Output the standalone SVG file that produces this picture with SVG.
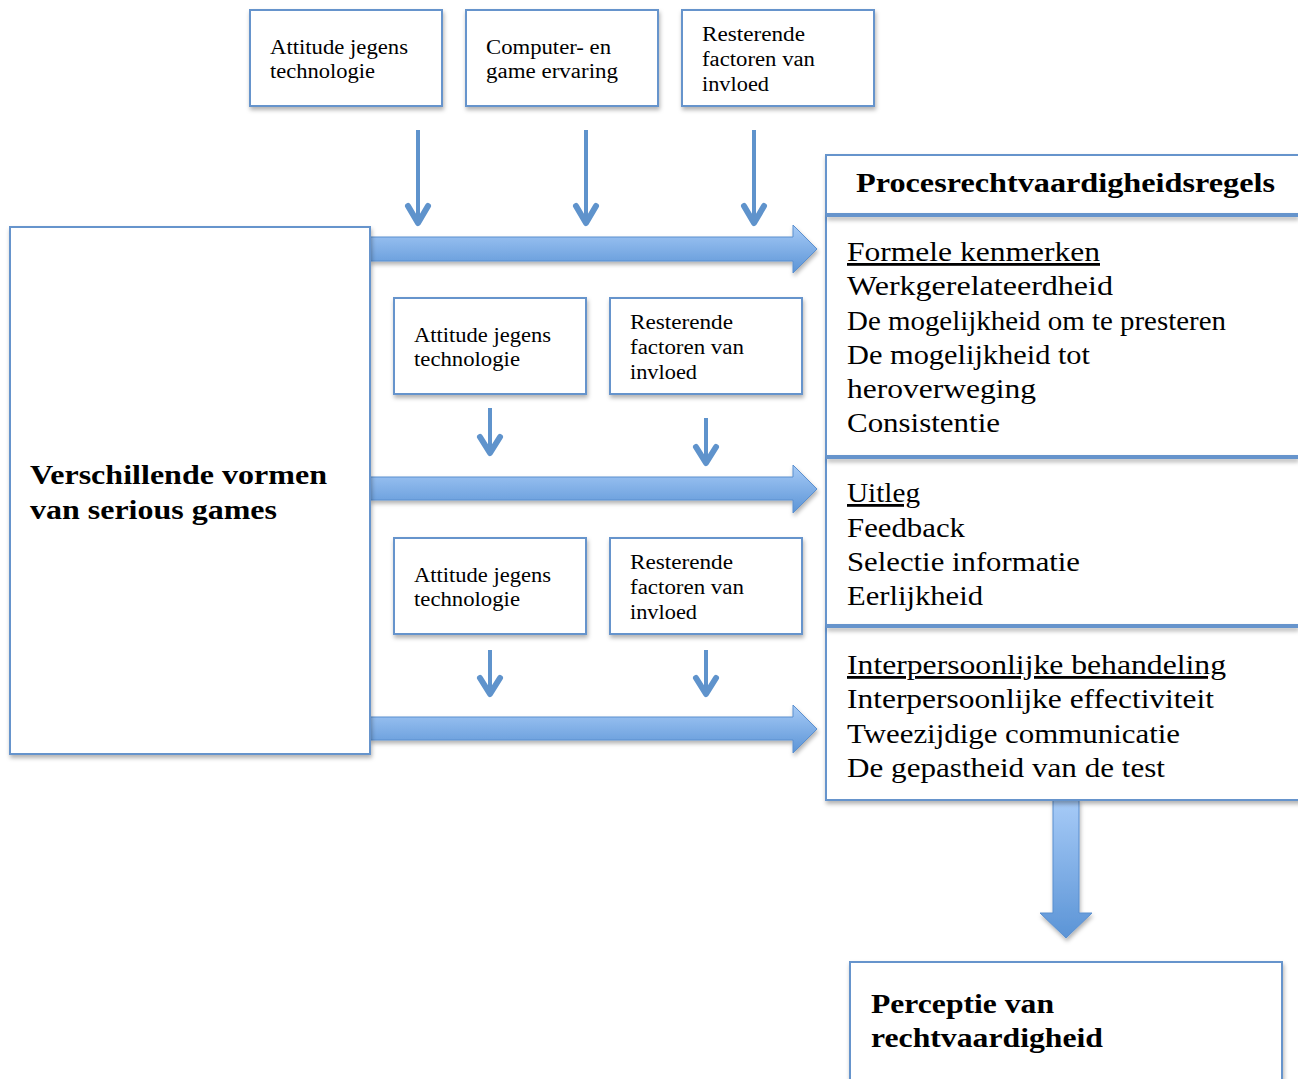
<svg xmlns="http://www.w3.org/2000/svg" width="1298" height="1079" viewBox="0 0 1298 1079">
<defs>
<filter id="sh" x="-10%" y="-10%" width="120%" height="130%">
<feDropShadow dx="1" dy="3" stdDeviation="2" flood-color="#000" flood-opacity="0.3"/>
</filter>
<linearGradient id="gh" x1="0" y1="0" x2="0" y2="1">
<stop offset="0" stop-color="#a7cbf7"/>
<stop offset="1" stop-color="#5b94d6"/>
</linearGradient>
<linearGradient id="gv" x1="0" y1="0" x2="0" y2="1">
<stop offset="0" stop-color="#a7cbf7"/>
<stop offset="1" stop-color="#5b94d6"/>
</linearGradient>
</defs>
<style>
.box{fill:#fff;stroke:#6694cc;stroke-width:2;}
.sep{stroke:#6694cc;stroke-width:4;}
.t{font-family:"Liberation Serif","Times New Roman",serif;fill:#000;}
.s{font-size:20px;}
.m{font-size:28px;}
.b{font-weight:bold;}
.u{text-decoration:underline;}
.big{fill:url(#gh);stroke:#5a8fcf;stroke-width:1;}
.thin{stroke:#5f93cc;stroke-width:4;fill:none;}
.head{stroke:#5f93cc;stroke-width:6;fill:none;stroke-linecap:round;stroke-linejoin:round;}
</style>
<rect width="1298" height="1079" fill="#fff"/>

<g id="connectors">
<g filter="url(#sh)">
<polygon class="big" points="370,237 793,237 793,225 817,249 793,273 793,261 370,261"/>
<polygon class="big" points="370,477 793,477 793,465 817,489 793,513 793,500 370,500"/>
<polygon class="big" points="370,717 793,717 793,705 817,729 793,753 793,740 370,740"/>
<polygon class="big" style="fill:url(#gv)" points="1053,800 1079,800 1079,913 1092,913 1066,938 1040,913 1053,913"/>
</g>
<g>
<line class="thin" x1="418" y1="130" x2="418" y2="222"/>
<polyline class="head" points="408,206 418,223 428,206"/>
<line class="thin" x1="586" y1="130" x2="586" y2="222"/>
<polyline class="head" points="576,206 586,223 596,206"/>
<line class="thin" x1="754" y1="130" x2="754" y2="222"/>
<polyline class="head" points="744,206 754,223 764,206"/>
<line class="thin" x1="490" y1="408" x2="490" y2="452"/>
<polyline class="head" points="480,437 490,453 500,437"/>
<line class="thin" x1="706" y1="418" x2="706" y2="462"/>
<polyline class="head" points="696,447 706,463 716,447"/>
<line class="thin" x1="490" y1="650" x2="490" y2="693"/>
<polyline class="head" points="480,678 490,694 500,678"/>
<line class="thin" x1="706" y1="650" x2="706" y2="693"/>
<polyline class="head" points="696,678 706,694 716,678"/>
</g>
</g>

<g id="n-attitude-top">
<rect class="box" filter="url(#sh)" x="250" y="10" width="192" height="96"/>
<text class="t s" x="270" y="54" textLength="138" lengthAdjust="spacingAndGlyphs">Attitude jegens</text>
<text class="t s" x="270" y="78" textLength="105" lengthAdjust="spacingAndGlyphs">technologie</text>
</g>
<g id="n-computer-top">
<rect class="box" filter="url(#sh)" x="466" y="10" width="192" height="96"/>
<text class="t s" x="486" y="54" textLength="125" lengthAdjust="spacingAndGlyphs">Computer- en</text>
<text class="t s" x="486" y="78" textLength="132" lengthAdjust="spacingAndGlyphs">game ervaring</text>
</g>
<g id="n-rest-top">
<rect class="box" filter="url(#sh)" x="682" y="10" width="192" height="96"/>
<text class="t s" x="702" y="41" textLength="103" lengthAdjust="spacingAndGlyphs">Resterende</text>
<text class="t s" x="702" y="66" textLength="113" lengthAdjust="spacingAndGlyphs">factoren van</text>
<text class="t s" x="702" y="91" textLength="67" lengthAdjust="spacingAndGlyphs">invloed</text>
</g>

<g id="n-attitude-mid">
<rect class="box" filter="url(#sh)" x="394" y="298" width="192" height="96"/>
<text class="t s" x="414" y="342" textLength="137" lengthAdjust="spacingAndGlyphs">Attitude jegens</text>
<text class="t s" x="414" y="366" textLength="106" lengthAdjust="spacingAndGlyphs">technologie</text>
</g>
<g id="n-rest-mid">
<rect class="box" filter="url(#sh)" x="610" y="298" width="192" height="96"/>
<text class="t s" x="630" y="329" textLength="103" lengthAdjust="spacingAndGlyphs">Resterende</text>
<text class="t s" x="630" y="354" textLength="114" lengthAdjust="spacingAndGlyphs">factoren van</text>
<text class="t s" x="630" y="379" textLength="67" lengthAdjust="spacingAndGlyphs">invloed</text>
</g>

<g id="n-attitude-bot">
<rect class="box" filter="url(#sh)" x="394" y="538" width="192" height="96"/>
<text class="t s" x="414" y="582" textLength="137" lengthAdjust="spacingAndGlyphs">Attitude jegens</text>
<text class="t s" x="414" y="606" textLength="106" lengthAdjust="spacingAndGlyphs">technologie</text>
</g>
<g id="n-rest-bot">
<rect class="box" filter="url(#sh)" x="610" y="538" width="192" height="96"/>
<text class="t s" x="630" y="569" textLength="103" lengthAdjust="spacingAndGlyphs">Resterende</text>
<text class="t s" x="630" y="594" textLength="114" lengthAdjust="spacingAndGlyphs">factoren van</text>
<text class="t s" x="630" y="619" textLength="67" lengthAdjust="spacingAndGlyphs">invloed</text>
</g>

<g id="n-games">
<rect class="box" filter="url(#sh)" x="10" y="227" width="360" height="527"/>
<text class="t m b" x="30" y="484" textLength="297" lengthAdjust="spacingAndGlyphs">Verschillende vormen</text>
<text class="t m b" x="30" y="519" textLength="247" lengthAdjust="spacingAndGlyphs">van serious games</text>
</g>

<g id="n-regels">
<rect class="box" filter="url(#sh)" x="826" y="155" width="480" height="645"/>
<text class="t b" style="font-size:27px" x="856" y="192" textLength="419" lengthAdjust="spacingAndGlyphs">Procesrechtvaardigheidsregels</text>
<g filter="url(#sh)">
<line class="sep" x1="826" y1="215" x2="1298" y2="215"/>
<line class="sep" x1="826" y1="457" x2="1298" y2="457"/>
<line class="sep" x1="826" y1="626" x2="1298" y2="626"/>
</g>
<text class="t m u" x="847" y="261" textLength="253" lengthAdjust="spacingAndGlyphs">Formele kenmerken</text>
<text class="t m" x="847" y="295" textLength="266" lengthAdjust="spacingAndGlyphs">Werkgerelateerdheid</text>
<text class="t m" x="847" y="330" textLength="379" lengthAdjust="spacingAndGlyphs">De mogelijkheid om te presteren</text>
<text class="t m" x="847" y="364" textLength="243" lengthAdjust="spacingAndGlyphs">De mogelijkheid tot</text>
<text class="t m" x="847" y="398" textLength="189" lengthAdjust="spacingAndGlyphs">heroverweging</text>
<text class="t m" x="847" y="432" textLength="153" lengthAdjust="spacingAndGlyphs">Consistentie</text>
<text class="t m u" x="847" y="502" textLength="73" lengthAdjust="spacingAndGlyphs">Uitleg</text>
<text class="t m" x="847" y="537" textLength="118" lengthAdjust="spacingAndGlyphs">Feedback</text>
<text class="t m" x="847" y="571" textLength="233" lengthAdjust="spacingAndGlyphs">Selectie informatie</text>
<text class="t m" x="847" y="605" textLength="136" lengthAdjust="spacingAndGlyphs">Eerlijkheid</text>
<text class="t m u" x="847" y="674" textLength="379" lengthAdjust="spacingAndGlyphs">Interpersoonlijke behandeling</text>
<text class="t m" x="847" y="708" textLength="367" lengthAdjust="spacingAndGlyphs">Interpersoonlijke effectiviteit</text>
<text class="t m" x="847" y="743" textLength="333" lengthAdjust="spacingAndGlyphs">Tweezijdige communicatie</text>
<text class="t m" x="847" y="777" textLength="318" lengthAdjust="spacingAndGlyphs">De gepastheid van de test</text>
</g>

<g id="n-perceptie">
<rect class="box" filter="url(#sh)" x="850" y="962" width="432" height="130"/>
<text class="t m b" x="871" y="1013" textLength="183" lengthAdjust="spacingAndGlyphs">Perceptie van</text>
<text class="t m b" x="871" y="1047" textLength="232" lengthAdjust="spacingAndGlyphs">rechtvaardigheid</text>
</g>
</svg>
